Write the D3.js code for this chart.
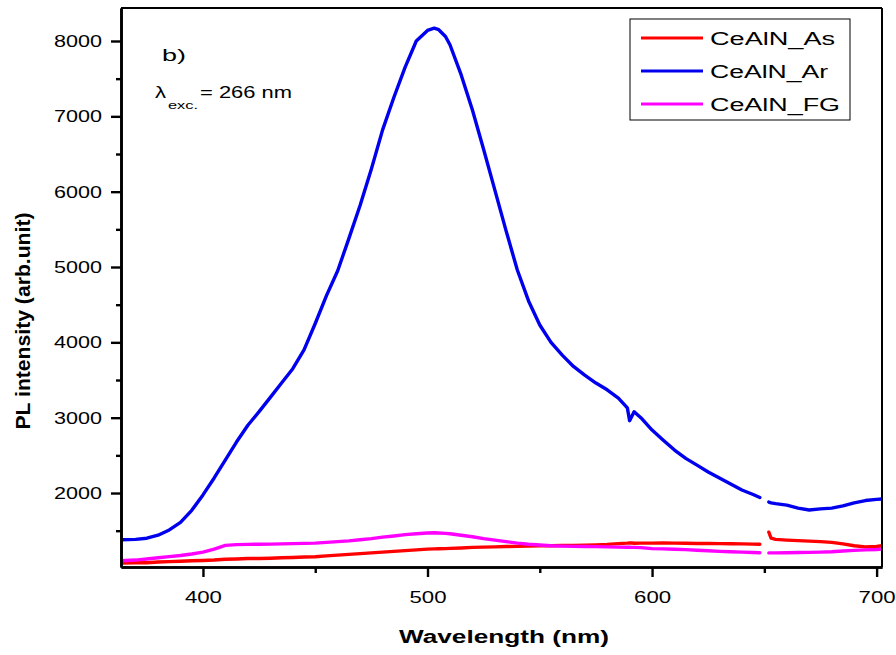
<!DOCTYPE html>
<html>
<head>
<meta charset="utf-8">
<script src="https://cdn.jsdelivr.net/npm/d3@7"></script>
<style>
  html, body { margin: 0; padding: 0; background: #fff; }
  svg { display: block; font-family: "Liberation Sans", Arial, sans-serif; }
</style>
</head>
<body>
<svg id="chart" width="896" height="655"></svg>
<script>
// ---------- data ----------
const wavelength = [
  363.5,370,375,380,385,390,395,400,405,410,
  415,420,425,430,435,440,445,450,455,460,
  465,470,475,480,485,490,495,500,503,505,
  508,510,515,520,525,530,535,540,545,550,
  555,560,565,570,575,580,585,589,590,591,
  592,595,600,605,610,615,620,625,630,635,
  640,645,648,650,652,653,655,660,665,670,
  675,680,685,690,695,700,702.4
];
const ceAlN_As = [
  1070,1075,1075,1085,1090,1095,1100,1105,1110,1120,
  1125,1130,1130,1135,1140,1145,1150,1155,1165,1175,
  1185,1195,1205,1215,1225,1235,1245,1255,1258,1260,
  1262,1265,1270,1278,1282,1285,1290,1292,1295,1298,
  1300,1303,1305,1308,1312,1318,1328,1335,1338,1336,
  1334,1335,1335,1338,1335,1333,1330,1329,1328,1326,
  1325,1322,1320,null,1480,1400,1385,1375,1368,1362,
  1355,1345,1325,1300,1285,1290,1300
];
const ceAlN_Ar = [
  1380,1385,1400,1440,1510,1610,1770,1975,2200,2440,
  2680,2900,3080,3270,3460,3650,3900,4250,4620,4950,
  5380,5820,6300,6820,7250,7650,8000,8140,8170,8150,
  8060,7950,7550,7085,6560,6020,5480,4960,4550,4230,
  4000,3830,3680,3565,3460,3370,3260,3130,2960,3020,
  3080,3000,2835,2700,2570,2460,2370,2280,2200,2120,
  2040,1980,1940,null,1880,1870,1860,1840,1800,1775,
  1790,1800,1830,1870,1900,1915,1920
];
const ceAlN_FG = [
  1100,1110,1125,1140,1155,1170,1190,1215,1255,1305,
  1315,1318,1320,1322,1325,1328,1332,1335,1345,1355,
  1365,1380,1395,1415,1430,1448,1460,1470,1472,1470,
  1465,1460,1440,1420,1395,1375,1355,1335,1320,1310,
  1300,1295,1292,1290,1288,1285,1282,1280,1280,1278,
  1278,1275,1262,1258,1254,1248,1240,1233,1226,1220,
  1215,1210,1208,null,1205,1205,1205,1208,1210,1212,
  1215,1220,1230,1238,1245,1250,1255
];
const seriesNames = ["CeAlN_As", "CeAlN_Ar", "CeAlN_FG"];
const seriesColors = ["#ff0000", "#0000ee", "#ff00ff"];
const xMajorTicks = [400, 500, 600, 700];
const xMinorTicks = [450, 550, 650];
const yMajorTicks = [2000, 3000, 4000, 5000, 6000, 7000, 8000];
const yMinorTicks = [1500, 2500, 3500, 4500, 5500, 6500, 7500];
const xDomain = [363.5, 702.4];
const yDomain = [1018, 8438];

// ---------- layout ----------
const svg = d3.select("#chart");
const L = 121, R = 882, T = 8, B = 567;
const x = d3.scaleLinear().domain(xDomain).range([L, R]);
const y = d3.scaleLinear().domain(yDomain).range([B, T]);

function fit(sel, w) {
  sel.attr("textLength", w).attr("lengthAdjust", "spacingAndGlyphs");
}

// ---------- data lines ----------
const allSeries = [ceAlN_As, ceAlN_Ar, ceAlN_FG];
svg.append("clipPath").attr("id", "clip")
  .append("rect").attr("x", L).attr("y", T).attr("width", R - L).attr("height", B - T);
const line = d3.line()
  .defined(d => d[1] !== null)
  .x(d => x(d[0]))
  .y(d => y(d[1]));
const gLines = svg.append("g").attr("clip-path", "url(#clip)");
allSeries.forEach((vals, i) => {
  const pts = wavelength.map((w, k) => [w, vals[k]]);
  gLines.append("path")
    .datum(pts)
    .attr("d", line)
    .attr("fill", "none")
    .attr("stroke", seriesColors[i])
    .attr("stroke-width", 3.4)
    .attr("stroke-linejoin", "round")
    .attr("stroke-linecap", "round");
});

// ---------- frame ----------
svg.append("line").attr("x1", L).attr("x2", R).attr("y1", T).attr("y2", T)
  .attr("stroke", "#000").attr("stroke-width", 2);
svg.append("line").attr("x1", R).attr("x2", R).attr("y1", T).attr("y2", B)
  .attr("stroke", "#000").attr("stroke-width", 2);

// ---------- axes ----------
const yAxis = svg.append("g").attr("transform", `translate(${L},0)`)
  .call(d3.axisLeft(y).tickValues(yMajorTicks).tickFormat(d3.format("d"))
    .tickSize(10).tickPadding(9).tickSizeOuter(0));
const yMinor = svg.append("g").attr("transform", `translate(${L},0)`)
  .call(d3.axisLeft(y).tickValues(yMinorTicks).tickSize(5).tickFormat("").tickSizeOuter(0));
const xAxis = svg.append("g").attr("transform", `translate(0,${B})`)
  .call(d3.axisBottom(x).tickValues(xMajorTicks).tickFormat(d3.format("d"))
    .tickSize(10).tickPadding(14).tickSizeOuter(0));
const xMinor = svg.append("g").attr("transform", `translate(0,${B})`)
  .call(d3.axisBottom(x).tickValues(xMinorTicks).tickSize(6).tickFormat("").tickSizeOuter(0));

[yAxis, yMinor, xAxis, xMinor].forEach(g => {
  g.selectAll("path.domain").attr("stroke", "#000").attr("stroke-width", 2.6);
  g.selectAll(".tick line").attr("stroke", "#000").attr("stroke-width", 2.4);
});
yAxis.selectAll(".tick text")
  .attr("font-size", 17).attr("fill", "#000")
  .attr("font-family", "Liberation Sans, Arial, sans-serif")
  .call(fit, 48);
xAxis.selectAll(".tick text")
  .attr("font-size", 17).attr("fill", "#000")
  .attr("font-family", "Liberation Sans, Arial, sans-serif")
  .call(fit, 37);

// ---------- axis titles ----------
svg.append("text")
  .attr("transform", "translate(30,321) rotate(-90)")
  .attr("text-anchor", "middle")
  .attr("font-size", 20).attr("font-weight", "bold")
  .text("PL intensity (arb.unit)")
  .call(fit, 217);
svg.append("text")
  .attr("x", 504).attr("y", 643)
  .attr("text-anchor", "middle")
  .attr("font-size", 18).attr("font-weight", "bold")
  .text("Wavelength (nm)")
  .call(fit, 210);

// ---------- annotations ----------
svg.append("text").attr("x", 162).attr("y", 61)
  .attr("font-size", 17).text("b)").call(fit, 24);
svg.append("text").attr("x", 155).attr("y", 98)
  .attr("font-size", 17).text("λ").call(fit, 11);
svg.append("text").attr("x", 168).attr("y", 109)
  .attr("font-size", 11).text("exc.").call(fit, 30);
svg.append("text").attr("x", 200).attr("y", 98)
  .attr("font-size", 17).text("= 266 nm").call(fit, 92);

// ---------- legend ----------
const lg = svg.append("g");
lg.append("rect").attr("x", 630).attr("y", 19).attr("width", 220).attr("height", 101)
  .attr("fill", "#fff").attr("stroke", "#000").attr("stroke-width", 1);
const legendWidths = [125, 118, 130];
seriesNames.forEach((name, i) => {
  const yy = 38 + i * 33;
  lg.append("line").attr("x1", 641).attr("x2", 703).attr("y1", yy).attr("y2", yy)
    .attr("stroke", seriesColors[i]).attr("stroke-width", 3);
  lg.append("text").attr("x", 710).attr("y", yy + 6.5)
    .attr("font-size", 18).text(name).call(fit, legendWidths[i]);
});
</script>
</body>
</html>
